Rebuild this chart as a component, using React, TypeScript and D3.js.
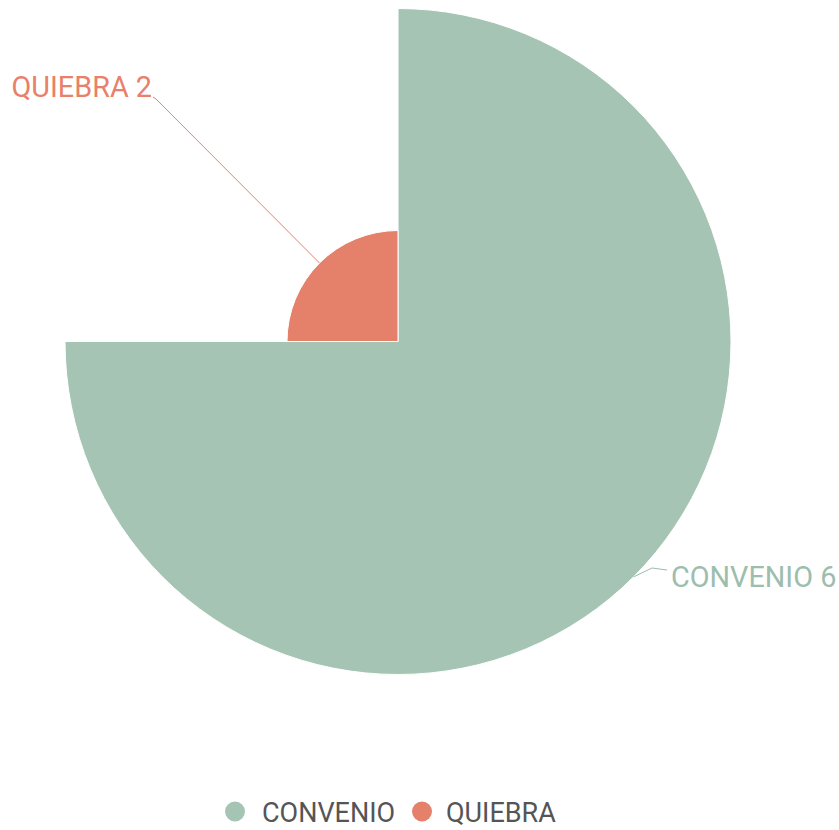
import React from "react";
import * as d3 from "d3";

const categories = ["CONVENIO", "QUIEBRA"];
const values = [6, 2];
const colors = ["#a6c4b4", "#e5806a"];
const labelColors = ["#9dbdad", "#e8806a"];

const W = 839;
const H = 830;
const cx = 398;
const cy = 341.5;
const maxR = 333;

export default function App() {
  const total = d3.sum(values);
  const angleScale = d3.scaleLinear().domain([0, total]).range([0, 2 * Math.PI]);
  const rScale = d3.scaleLinear().domain([0, d3.max(values)!]).range([0, maxR]);
  let acc = 0;
  const slices = values.map((v, i) => {
    const s = angleScale(acc);
    acc += v;
    const e = angleScale(acc);
    return { i, v, startAngle: s, endAngle: e, r: rScale(v) };
  });

  const arcGen = d3.arc<any>().innerRadius(0);

  const labelDefs = [
    { text: `${categories[0]} ${values[0]}`, anchor: "start", tx: 671, ty: 587, bend: [652, 568], end: [667, 570] },
    { text: `${categories[1]} ${values[1]}`, anchor: "end", tx: 152, ty: 97, bend: [156, 99], end: [153, 97] },
  ];

  const legend = [
    { cxp: 235, tx: 262 },
    { cxp: 422, tx: 446 },
  ];

  return (
    <svg width={W} height={H} style={{ position: "absolute", left: 0, top: 0, fontFamily: "Roboto, sans-serif" }}>
      <rect width={W} height={H} fill="#fff" />
      <g transform={`translate(${cx},${cy})`}>
        {slices.map((s) => (
          <path
            key={s.i}
            d={arcGen({ startAngle: s.startAngle, endAngle: s.endAngle, outerRadius: s.r }) as string}
            fill={colors[s.i]}
            stroke="#fff"
            strokeWidth={1}
          />
        ))}
      </g>
      {slices.map((s) => {
        const mid = (s.startAngle + s.endAngle) / 2;
        const px = cx + Math.sin(mid) * s.r;
        const py = cy - Math.cos(mid) * s.r;
        const L = labelDefs[s.i];
        const pts = [[px, py], L.bend, L.end];
        return (
          <g key={"l" + s.i}>
            <polyline
              points={pts.map((p) => p.join(",")).join(" ")}
              fill="none"
              stroke={labelColors[s.i]}
              strokeWidth={1}
            />
            <text x={L.tx} y={L.ty} textAnchor={L.anchor as any} fontSize={28.8} fill={labelColors[s.i]}>
              {L.text}
            </text>
          </g>
        );
      })}
      <g>
        {legend.map((p, i) => (
          <g key={"lg" + i}>
            <circle cx={p.cxp} cy={811.5} r={10} fill={colors[i]} />
            <text x={p.tx} y={821.5} fontSize={27} fill="#555">
              {categories[i]}
            </text>
          </g>
        ))}
      </g>
    </svg>
  );
}
